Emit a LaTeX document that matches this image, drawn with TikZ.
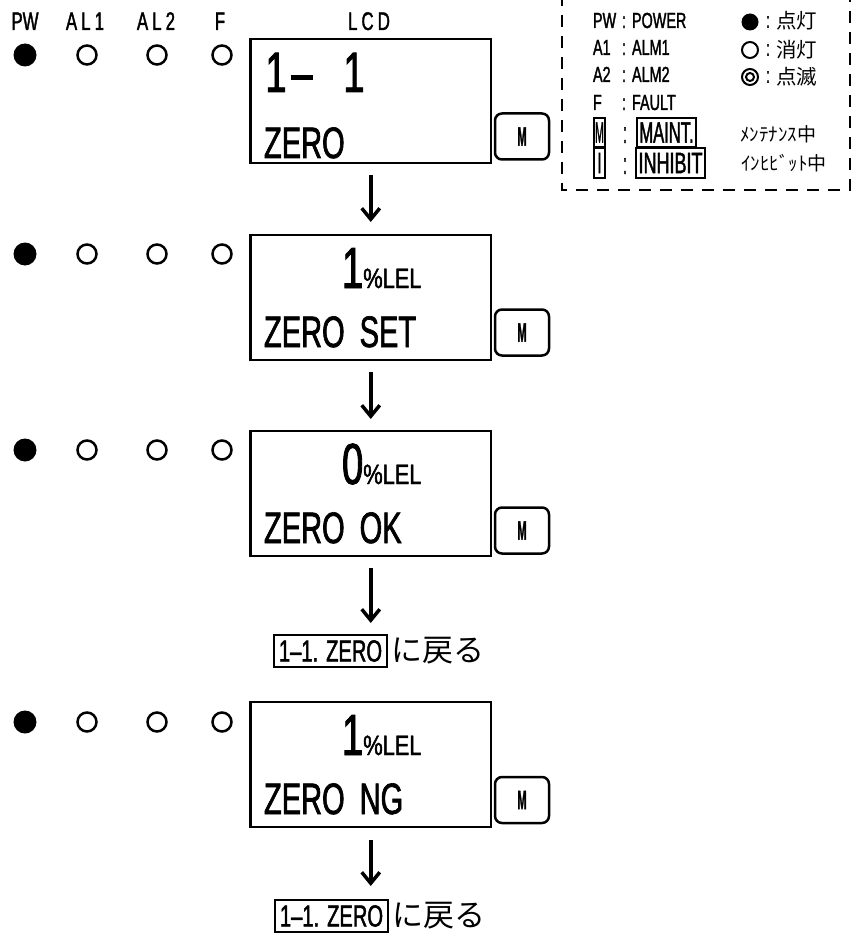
\documentclass[tikz,border=0pt]{standalone}
\usepackage{fontspec}
\usepackage{graphicx}
\usetikzlibrary{arrows.meta}
\newfontfamily\latf{Liberation Sans}[FakeStretch=0.66,FakeBold=1.5]
\newfontfamily\jpf{Noto Sans CJK JP}
\newcommand{\unitlel}{{\fontsize{28}{28}\selectfont\scalebox{1.18}[1]{\%LEL}}}
\begin{document}
\begin{tikzpicture}[x=1pt,y=-1pt,
 every node/.style={inner sep=0pt, outer sep=0pt},
 lcd/.style={draw, line width=2.5pt, minimum width=240.5pt},
 mbtn/.style={draw, line width=2.5pt, rounded corners=7pt, minimum width=54pt, minimum height=46pt, font=\latf\bfseries\fontsize{24}{24}\selectfont},
 ledon/.style={circle, fill=black, minimum size=23pt},
 ledoff/.style={circle, draw, line width=2.5pt, minimum size=19pt},
 hdr/.style={anchor=base, font=\latf\fontsize{25.5}{25.5}\selectfont},
 lcdbig/.style={anchor=base west, font=\latf\fontsize{57}{57}\selectfont},
 lcdtxt/.style={anchor=base west, font=\latf\fontsize{44}{44}\selectfont},
 lcdval/.style={anchor=base west, font=\latf\fontsize{58}{58}\selectfont},
 flow/.style={line width=3.5pt, -{Straight Barb[length=11pt,width=18pt]}},
 retbox/.style={draw, line width=2.5pt, minimum width=113pt, minimum height=32pt, font=\latf\fontsize{30.5}{30.5}\selectfont},
 rettxt/.style={anchor=west, font=\jpf\fontsize{31}{31}\selectfont},
 leg/.style={anchor=base west, font=\latf\fontsize{21.8}{21.8}\selectfont},
 legc/.style={anchor=base, font=\latf\fontsize{21.8}{21.8}\selectfont},
 legbox/.style={draw, line width=2pt, font=\latf\fontsize{21.8}{21.8}\selectfont},
 legon/.style={circle, fill=black, minimum size=17pt},
 legoff/.style={circle, draw, line width=2pt, minimum size=16pt},
 legin/.style={circle, draw, line width=2pt, minimum size=8pt},
 legcc/.style={font=\latf\fontsize{21.8}{21.8}\selectfont},
 legjp/.style={anchor=west, font=\jpf\fontsize{20.5}{20.5}\selectfont},
 legkana/.style={anchor=west, font=\jpf\fontsize{19}{19}\selectfont},
]
\clip (0,0) rectangle (860,936);

% headers
\node[hdr] (hpw) at (25,30) {PW};
\node[hdr] (hal1) at (85,30) {\addfontfeature{LetterSpace=16}AL1};
\node[hdr] (hal2) at (156,30) {\addfontfeature{LetterSpace=16}AL2};
\node[hdr] (hf) at (220,30) {F};
\node[hdr] (hlcd) at (369,30) {\addfontfeature{LetterSpace=16}LCD};

% row 1
\node[ledon] (p1) at (25,55) {};
\node[ledoff] (a1) at (87,55) {};
\node[ledoff] (b1) at (157,55) {};
\node[ledoff] (f1) at (222,55) {};
\node[lcd, minimum height=124pt] (lcd1) at (370.75,101) {};
\node[lcdbig] (l1a) at (263,92) {\makebox[26pt]{1}\makebox[26pt]{–}\makebox[26pt]{}\makebox[26pt]{1}};
\node[lcdtxt] (l1b) at (264,158) {ZERO};
\node[mbtn] (m1) at (522,136.5) {\scalebox{0.7}[1.1]{M}};

% row 2
\node[ledon] (p2) at (25,254) {};
\node[ledoff] (a2) at (87,254) {};
\node[ledoff] (b2) at (157,254) {};
\node[ledoff] (f2) at (222,254) {};
\node[lcd, minimum height=125pt] (lcd2) at (370.75,297.5) {};
\node[lcdval] (l2a) at (342,288) {1\unitlel};
\node[lcdtxt] (l2b) at (264,347) {ZERO\hspace{15pt}SET};
\node[mbtn] (m2) at (522,332.5) {\scalebox{0.7}[1.1]{M}};

% row 3
\node[ledon] (p3) at (25,450) {};
\node[ledoff] (a3) at (87,450) {};
\node[ledoff] (b3) at (157,450) {};
\node[ledoff] (f3) at (222,450) {};
\node[lcd, minimum height=125pt] (lcd3) at (370.75,493.5) {};
\node[lcdval] (l3a) at (342,484) {0\unitlel};
\node[lcdtxt] (l3b) at (264,543) {ZERO\hspace{15pt}OK};
\node[mbtn] (m3) at (522,530.5) {\scalebox{0.7}[1.1]{M}};

\node[retbox] (ret1) at (330.5,651) {1–1.\hspace{8pt}ZERO};
\node[rettxt] (rt1) at (391,651) {に戻る};

% row 4
\node[ledon] (p4) at (25,722) {};
\node[ledoff] (a4) at (87,722) {};
\node[ledoff] (b4) at (157,722) {};
\node[ledoff] (f4) at (222,722) {};
\node[lcd, minimum height=125pt] (lcd4) at (370.75,764.5) {};
\node[lcdval] (l4a) at (342,755) {1\unitlel};
\node[lcdtxt] (l4b) at (264,814) {ZERO\hspace{15pt}NG};
\node[mbtn] (m4) at (522,800) {\scalebox{0.7}[1.1]{M}};

\node[retbox] (ret2) at (331.5,916) {1–1.\hspace{8pt}ZERO};
\node[rettxt] (rt2) at (392,916) {に戻る};

% arrows
\draw[flow, shorten <=12pt, shorten >=13pt] (lcd1.south) -- (lcd2.north);
\draw[flow, shorten <=12pt, shorten >=12pt] (lcd2.south) -- (lcd3.north);
\draw[flow, shorten <=12pt, shorten >=12pt] (lcd3.south) -- (lcd3.south |- ret1.north);
\draw[flow, shorten <=13pt, shorten >=14pt] (lcd4.south) -- (lcd4.south |- ret2.north);

% legend
\draw[line width=2.5pt, dash pattern=on 12pt off 9pt] (562,-6) -- (562,190) -- (850,190) -- (850,-6);
\node[leg] (lk1) at (593,28) {PW};
\node[legc] (lc1) at (624,28) {:};
\node[leg] (lv1) at (632,28) {POWER};
\node[leg] (lk2) at (593,55) {A1};
\node[legc] (lc2) at (624,55) {:};
\node[leg] (lv2) at (632,55) {ALM1};
\node[leg] (lk3) at (593,82) {A2};
\node[legc] (lc3) at (624,82) {:};
\node[leg] (lv3) at (632,82) {ALM2};
\node[leg] (lk4) at (593,110) {F};
\node[legc] (lc4) at (624,110) {:};
\node[leg] (lv4) at (632,110) {FAULT};
\node[legbox, minimum width=11pt, minimum height=29pt] (lm) at (599.5,132.5) {\scalebox{0.75}[1.35]{M}};
\node[legc] (lc5) at (625,143) {\scalebox{1}[1.35]{:}};
\node[legbox, minimum width=59pt, minimum height=29pt] (lmaint) at (666.5,132.5) {\scalebox{1.15}[1.35]{MAINT.}};
\node[legbox, minimum width=11pt, minimum height=30pt] (li) at (599.5,163) {\scalebox{1}[1.35]{I}};
\node[legc] (lc6) at (625,174) {\scalebox{1}[1.35]{:}};
\node[legbox, minimum width=69pt, minimum height=30pt] (linh) at (670.5,163) {\scalebox{1.25}[1.35]{INHIBIT}};

\node[legon] (s1) at (750,22) {};
\node[legcc] (sc1) at (768,22) {:};
\node[legjp] (j1) at (776,21) {点灯};
\node[legoff] (s2) at (750,50) {};
\node[legcc] (sc2) at (768,50) {:};
\node[legjp] (j2) at (776,50) {消灯};
\node[legoff] (s3) at (750,77) {};
\node[legin] (s3i) at (750,77) {};
\node[legcc] (sc3) at (768,77) {:};
\node[legjp] (j3) at (776,77) {点滅};
\node[legkana] (k1) at (740,134) {ﾒﾝﾃﾅﾝｽ中};
\node[legkana] (k2) at (741,163) {ｲﾝﾋﾋﾞｯﾄ中};
\end{tikzpicture}
\end{document}
